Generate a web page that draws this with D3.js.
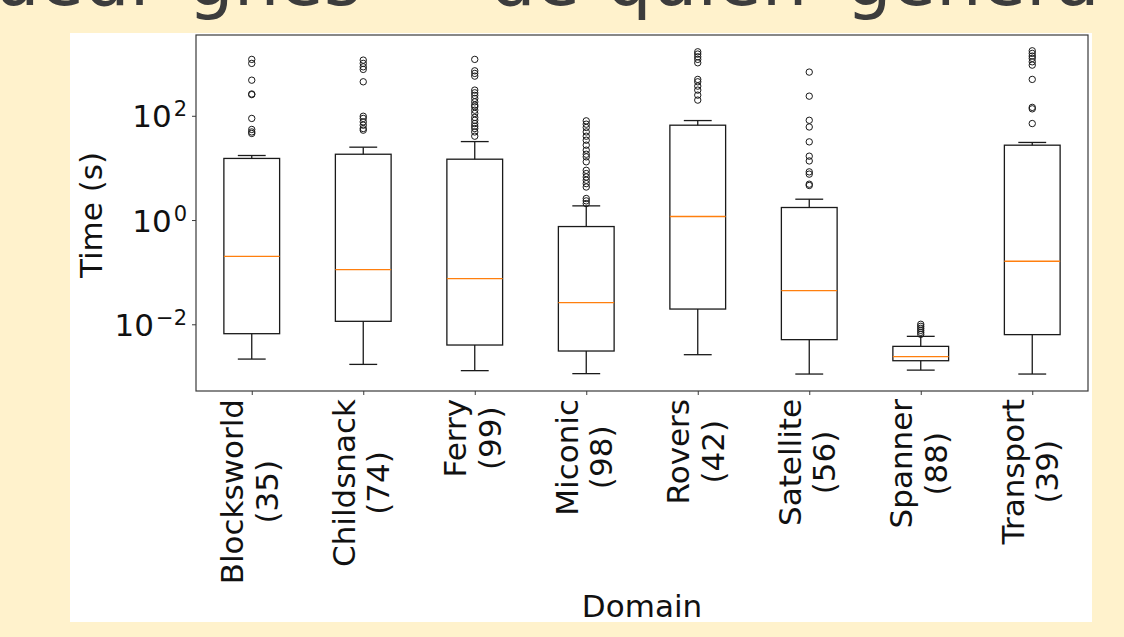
<!DOCTYPE html>
<html>
<head>
<meta charset="utf-8">
<script src="https://cdn.jsdelivr.net/npm/d3@7"></script>
<style>
  html, body { margin: 0; padding: 0; background: #fff2cc; }
  svg { display: block; }
  text { font-family: "DejaVu Sans", sans-serif; }
</style>
</head>
<body>
<svg id="chart" width="1124" height="637"></svg>
<script>
// ---- data ----
const categories = ["Blocksworld", "Childsnack", "Ferry", "Miconic", "Rovers", "Satellite", "Spanner", "Transport"];
const counts = [35, 74, 99, 98, 42, 56, 88, 39];
const whiskerLow  = [0.00215, 0.0017, 0.00129, 0.00113, 0.00261, 0.00111, 0.00132, 0.00111];
const q1          = [0.0066, 0.0114, 0.0040, 0.00307, 0.0196, 0.00507, 0.0020, 0.00633];
const median      = [0.20, 0.112, 0.075, 0.026, 1.17, 0.0443, 0.00239, 0.162];
const q3          = [15.2, 18.3, 14.7, 0.75, 66, 1.74, 0.00377, 27.3];
const whiskerHigh = [17.3, 25, 32, 1.87, 81, 2.51, 0.00587, 30.8];
const outliers = [
  [1208, 1012, 482, 262, 255, 89, 54.7, 49, 45.8],
  [1170, 1012, 871, 776, 449, 98, 89, 76.5, 66, 57, 53],
  [1208, 729, 650, 577, 311, 276, 246, 215, 185, 160, 149, 128, 111, 93, 82, 71, 63, 57, 49, 40.6],
  [80, 69, 59.7, 49, 40.6, 34, 27.3, 21.9, 18.3, 16.3, 13.1, 9.0, 7.8, 6.7, 5.8, 5.0, 4.3, 2.59, 2.33, 2.07],
  [1690, 1527, 1355, 1208, 1040, 499, 449, 371, 311, 249, 200],
  [689, 238, 82, 61, 31.6, 16.8, 13.6, 8.4, 7.6, 4.87, 4.6],
  [0.0100, 0.00914, 0.00836, 0.00765, 0.00701, 0.00641],
  [1766, 1574, 1397, 1262, 1086, 938, 499, 145, 136, 71]
];
const yTickValues = [1e-2, 1, 1e2];
const yTickExponents = ["\u22122", "0", "2"];
const yDomain = [Math.pow(10, -3.28), Math.pow(10, 3.55)];
const titleWords = ["uedr", "gnes", "de", "quien", "genera"];

// ---- layout ----
const svg = d3.select("#chart");
const panel = {x: 70, y: 33, w: 1022, h: 589};
const ax = {left: 196, right: 1088, top: 35, bottom: 391};
const FS = 31;

// partial title text at top (cropped by the page edge, as in the reference)
const titleX = [-6, 188, 490, 606, 846];
svg.append("g").selectAll("text").data(titleWords).join("text")
  .attr("x", (d, i) => titleX[i]).attr("y", 5)
  .attr("font-family", "'Open Sans', sans-serif")
  .attr("font-size", 72).attr("fill", "#3c3c3c").text(d => d);

svg.append("rect").attr("x", panel.x).attr("y", panel.y)
  .attr("width", panel.w).attr("height", panel.h).attr("fill", "#ffffff");

const x = d3.scaleLinear().domain([0.5, categories.length + 0.5]).range([ax.left, ax.right]);
const y = d3.scaleLog().domain(yDomain).range([ax.bottom, ax.top]);
const boxW = x(1.25) - x(1);   // half box width (0.25 units)
const capW = x(1.125) - x(1);  // half cap width

const g = svg.append("g");
const ink = "#1a1a1a";

categories.forEach((c, i) => {
  const cx = x(i + 1);
  const bg = g.append("g");
  bg.append("line").attr("x1", cx).attr("x2", cx)
    .attr("y1", y(q1[i])).attr("y2", y(whiskerLow[i]))
    .attr("stroke", ink).attr("stroke-width", 1.3);
  bg.append("line").attr("x1", cx).attr("x2", cx)
    .attr("y1", y(q3[i])).attr("y2", y(whiskerHigh[i]))
    .attr("stroke", ink).attr("stroke-width", 1.3);
  [whiskerLow[i], whiskerHigh[i]].forEach(v => {
    bg.append("line").attr("x1", cx - capW).attr("x2", cx + capW)
      .attr("y1", y(v)).attr("y2", y(v))
      .attr("stroke", ink).attr("stroke-width", 1.3);
  });
  bg.append("rect").attr("x", cx - boxW).attr("width", 2 * boxW)
    .attr("y", y(q3[i])).attr("height", y(q1[i]) - y(q3[i]))
    .attr("fill", "none").attr("stroke", ink).attr("stroke-width", 1.3);
  bg.append("line").attr("x1", cx - boxW).attr("x2", cx + boxW)
    .attr("y1", y(median[i])).attr("y2", y(median[i]))
    .attr("stroke", "#ff7f0e").attr("stroke-width", 1.3);
  bg.selectAll("circle").data(outliers[i]).join("circle")
    .attr("cx", cx).attr("cy", d => y(d)).attr("r", 3.2)
    .attr("fill", "none").attr("stroke", ink).attr("stroke-width", 1);
});

// frame
svg.append("rect").attr("x", ax.left).attr("y", ax.top)
  .attr("width", ax.right - ax.left).attr("height", ax.bottom - ax.top)
  .attr("fill", "none").attr("stroke", "#3a3a3a").attr("stroke-width", 1.2);

// y axis
const yAxis = svg.append("g").attr("transform", `translate(${ax.left},0)`)
  .call(d3.axisLeft(y).tickValues(yTickValues).tickSize(4).tickFormat(""));
yAxis.select(".domain").remove();
yAxis.selectAll(".tick line").attr("stroke", "#3a3a3a").attr("stroke-width", 1);
yTickValues.forEach((v, i) => {
  const t = svg.append("text").attr("x", 187).attr("y", y(v) + 11.5)
    .attr("text-anchor", "end").attr("font-size", FS).attr("fill", "#111");
  t.append("tspan").text("10");
  t.append("tspan").attr("font-size", 21).attr("dx", 2).attr("dy", -11).text(yTickExponents[i]);
});

// x axis
const xAxis = svg.append("g").attr("transform", `translate(0,${ax.bottom})`)
  .call(d3.axisBottom(x).tickValues(d3.range(1, categories.length + 1)).tickSize(4).tickFormat(""));
xAxis.select(".domain").remove();
xAxis.selectAll(".tick line").attr("stroke", "#3a3a3a").attr("stroke-width", 1);

categories.forEach((c, i) => {
  const cx = x(i + 1);
  const lg = svg.append("g").attr("transform", `translate(${cx},399) rotate(-90)`);
  const lines = [c, `(${counts[i]})`];
  const offs = [-8.5, 26];
  const nodes = lines.map((s, k) => lg.append("text").attr("y", offs[k])
    .attr("font-size", FS).attr("fill", "#111").attr("text-anchor", "middle").text(s));
  const maxW = d3.max(nodes, n => n.node().getComputedTextLength());
  nodes.forEach(n => n.attr("x", -maxW / 2));
});

// axis titles
svg.append("text").attr("x", (ax.left + ax.right) / 2).attr("y", 617)
  .attr("text-anchor", "middle").attr("font-size", FS).attr("fill", "#111").text("Domain");
svg.append("text").attr("transform", `translate(102,${(ax.top + ax.bottom) / 2 + 2}) rotate(-90)`)
  .attr("text-anchor", "middle").attr("font-size", FS).attr("fill", "#111").text("Time (s)");
</script>
</body>
</html>
